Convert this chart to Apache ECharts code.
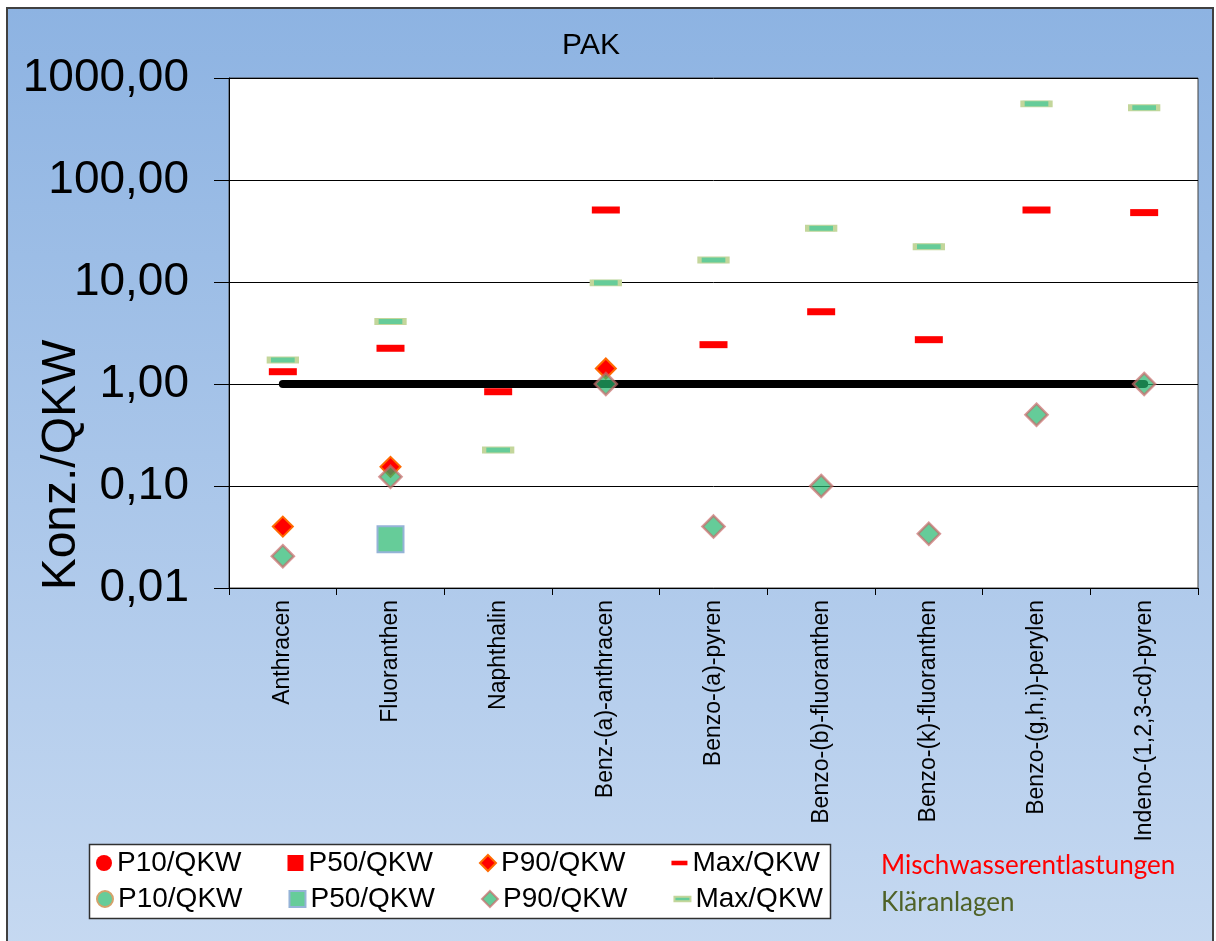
<!DOCTYPE html>
<html>
<head>
<meta charset="utf-8">
<title>PAK</title>
<script src="https://cdn.jsdelivr.net/npm/echarts@6/dist/echarts.min.js"></script>
<style>
  html, body { margin: 0; padding: 0; background: #ffffff; }
  #chart { width: 1216px; height: 941px; }
</style>
</head>
<body>
<div id="chart"></div>
<script>
// Substances (PAK) on the category axis
const categories = [
  'Anthracen', 'Fluoranthen', 'Naphthalin', 'Benz-(a)-anthracen', 'Benzo-(a)-pyren',
  'Benzo-(b)-fluoranthen', 'Benzo-(k)-fluoranthen', 'Benzo-(g,h,i)-perylen', 'Indeno-(1,2,3-cd)-pyren'
];

// Concentration / QKW ratios - Mischwasserentlastungen
const mwP10 = [null, null, null, null, null, null, null, null, null];
const mwP50 = [null, null, null, null, null, null, null, null, null];
const mwP90 = [0.04, 0.154, null, 1.42, null, null, null, null, null];
const mwMax = [1.32, 2.24, 0.84, 50.8, 2.43, 5.11, 2.72, 50.8, 47.9];

// Concentration / QKW ratios - Kläranlagen
const kaP10 = [null, null, null, null, null, null, null, null, null];
const kaP50 = [null, 0.03, null, null, null, null, null, null, null];
const kaP90 = [0.0205, 0.123, null, 1.0, 0.04, 0.10, 0.034, 0.50, 1.0];
const kaMax = [1.72, 4.1, 0.225, 9.8, 16.4, 33.7, 22.2, 558, 510];

// Quality target: ratio = 1
const qkwLimit = [1, 1, 1, 1, 1, 1, 1, 1, 1];

// Y axis tick values (log scale)
const yTicks = [0.01, 0.1, 1, 10, 100, 1000];

const FONT = "'Liberation Sans', Arial, sans-serif";
const GREEN = '#66cc99';

const chart = echarts.init(document.getElementById('chart'), null, { renderer: 'canvas' });

const legendNames = ['P10/QKW', 'P50/QKW', 'P90/QKW', 'Max/QKW'];
const dashIcon = 'path://M0,0H14V4H0Z';
const icons = ['circle', 'rect', 'diamond', dashIcon];

function legendRow(prefix, top) {
  return {
    left: 96,
    top: top,
    orient: 'horizontal',
    padding: 0,
    itemWidth: 16,
    itemHeight: 16,
    itemGap: 46,
    selectedMode: false,
    data: legendNames.map((n, i) => ({ name: prefix + n, icon: icons[i] })),
    formatter: (name) => name.slice(prefix.length),
    textStyle: { fontFamily: FONT, fontSize: 28, color: '#000' }
  };
}

const option = {
  backgroundColor: '#ffffff',
  animation: false,
  graphic: [
    {
      type: 'rect', z: -100, silent: true,
      shape: { x: 7, y: 8, width: 1206, height: 945 },
      style: {
        fill: {
          type: 'linear', x: 0, y: 0, x2: 0, y2: 1,
          colorStops: [{ offset: 0, color: '#8db3e2' }, { offset: 1, color: '#c6d9f1' }]
        },
        stroke: '#404040', lineWidth: 2
      }
    },
    {
      type: 'rect', z: -50, silent: true,
      shape: { x: 89.5, y: 844.5, width: 741, height: 74 },
      style: { fill: '#ffffff', stroke: '#303030', lineWidth: 1.5 }
    },
    {
      type: 'text', z: 10, silent: true,
      x: 591, y: 46,
      style: { text: 'PAK', fontFamily: FONT, fontSize: 30, fill: '#000', align: 'center', verticalAlign: 'middle' }
    },
    {
      type: 'text', z: 10, silent: true,
      x: 62, y: 465, rotation: Math.PI / 2,
      style: { text: 'Konz./QKW', fontFamily: FONT, fontSize: 48, fill: '#000', align: 'center', verticalAlign: 'middle' }
    },
    {
      type: 'text', z: 10, silent: true,
      x: 881, y: 866,
      style: { text: 'Mischwasserentlastungen', fontFamily: "Lato, 'Open Sans', sans-serif", fontSize: 26, fill: '#ff0000', align: 'left', verticalAlign: 'middle' }
    },
    {
      type: 'text', z: 10, silent: true,
      x: 881, y: 903,
      style: { text: 'Kläranlagen', fontFamily: "Lato, 'Open Sans', sans-serif", fontSize: 26, fill: '#4f6228', align: 'left', verticalAlign: 'middle' }
    }
  ],
  legend: [legendRow('Mischwasserentlastungen ', 849), legendRow('Kläranlagen ', 885)],
  grid: {
    left: 229, top: 78, width: 969, height: 510,
    outerBoundsMode: 'none',
    show: true, backgroundColor: '#ffffff', borderColor: '#404040', borderWidth: 1
  },
  xAxis: {
    type: 'category',
    data: categories,
    boundaryGap: true,
    axisLine: { show: true, lineStyle: { color: '#000', width: 1 } },
    axisTick: { show: true, length: 7, lineStyle: { color: '#000' } },
    axisLabel: { interval: 0, rotate: 90, margin: 12, fontFamily: FONT, fontSize: 23, color: '#000' },
    splitLine: { show: false }
  },
  yAxis: {
    type: 'log',
    logBase: 10,
    min: yTicks[0],
    max: yTicks[yTicks.length - 1],
    splitNumber: yTicks.length - 1,
    axisLine: { show: true, lineStyle: { color: '#000', width: 1 } },
    axisTick: { show: true, length: 15, lineStyle: { color: '#000' } },
    axisLabel: {
      margin: 40, fontFamily: FONT, fontSize: 46, color: '#000',
      formatter: (v) => Number(v).toFixed(2).replace('.', ',')
    },
    splitLine: { show: true, lineStyle: { color: '#000', width: 1 } }
  },
  series: [
    {
      name: 'QKW', type: 'line', data: qkwLimit, symbol: 'none', silent: true,
      lineStyle: { color: '#000', width: 8, cap: 'round' }, z: 2
    },
    {
      name: 'Mischwasserentlastungen P10/QKW', type: 'scatter', data: mwP10,
      symbol: 'circle', symbolSize: 16, itemStyle: { color: '#ff0000', opacity: 1 }, z: 3
    },
    {
      name: 'Mischwasserentlastungen P50/QKW', type: 'scatter', data: mwP50,
      symbol: 'rect', symbolSize: 16, itemStyle: { color: '#ff0000', opacity: 1 }, z: 3
    },
    {
      name: 'Mischwasserentlastungen P90/QKW', type: 'scatter', data: mwP90,
      symbol: 'diamond', symbolSize: 20,
      itemStyle: { color: '#ff0000', borderColor: '#ff6a00', borderWidth: 2, opacity: 1 }, z: 3
    },
    {
      name: 'Mischwasserentlastungen Max/QKW', type: 'scatter', data: mwMax,
      symbol: 'rect', symbolSize: [28, 7],
      itemStyle: { color: '#ff0000', opacity: 1 }, z: 3
    },
    {
      name: 'Kläranlagen P10/QKW', type: 'scatter', data: kaP10,
      symbol: 'circle', symbolSize: 16,
      itemStyle: { color: GREEN, borderColor: '#d6a16a', borderWidth: 1.5, opacity: 1 }, z: 4
    },
    {
      name: 'Kläranlagen P50/QKW', type: 'scatter', data: kaP50,
      symbol: 'rect', symbolSize: 26,
      itemStyle: { color: GREEN, borderColor: '#95b3d7', borderWidth: 2, opacity: 1 }, z: 4
    },
    {
      name: 'Kläranlagen P90/QKW', type: 'scatter', data: kaP90,
      symbol: 'diamond', symbolSize: 22,
      itemStyle: { color: '#24b66d', borderColor: '#c8696a', borderWidth: 2.5, opacity: 0.7 }, z: 4
    },
    {
      name: 'Kläranlagen Max/QKW', type: 'scatter', data: kaMax,
      symbol: 'rect', symbolSize: [28, 6],
      itemStyle: { color: GREEN, borderColor: '#c3d69b', borderWidth: 2, opacity: 1 }, z: 4
    }
  ]
};

chart.setOption(option);
</script>
</body>
</html>
